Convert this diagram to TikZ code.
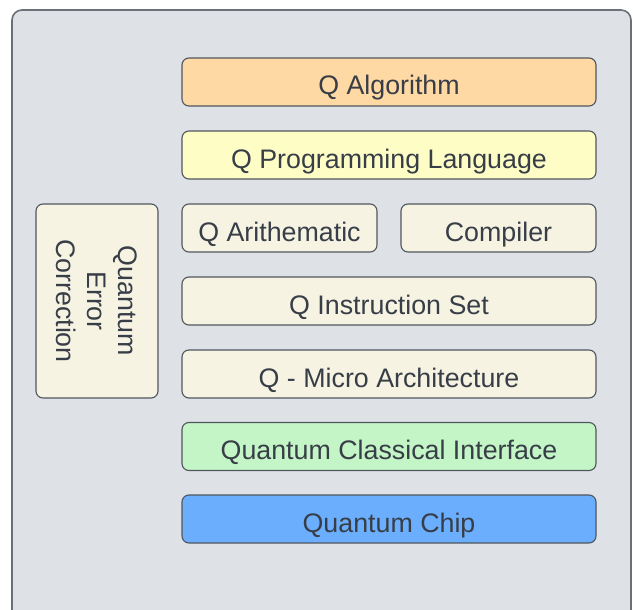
\documentclass[tikz,border=0pt]{standalone}
\usepackage{fontspec}
\setmainfont{Liberation Sans}

\definecolor{panelgray}{HTML}{DEE1E6}
\definecolor{framegray}{HTML}{6B7078}
\definecolor{edgegray}{HTML}{50565E}
\definecolor{textgray}{HTML}{383E47}
\definecolor{algofill}{HTML}{FED9A4}
\definecolor{langfill}{HTML}{FEFDC6}
\definecolor{layerfill}{HTML}{F6F3E3}
\definecolor{ifacefill}{HTML}{C3F5C6}
\definecolor{chipfill}{HTML}{6AAEFD}

\begin{document}
\begin{tikzpicture}[x=1pt,y=-1pt,
    box/.style={draw=edgegray, line width=1.1pt, rounded corners=7pt,
      fill=layerfill, text=textgray, inner sep=0pt,
      font=\fontsize{26.8}{31}\selectfont},
    layer/.style={box, minimum height=48pt, minimum width=414pt,
      text height=26pt, text depth=0pt},
    half/.style={layer, minimum width=195pt}]
    \useasboundingbox (0,0) rectangle (633,610);
    \clip (0,0) rectangle (633,610);

    % outer panel, runs off the bottom
    \draw[fill=panelgray, draw=framegray, line width=1.6pt, rounded corners=10pt]
        (12,10) rectangle (631,650);

    % stack of layers
    \node[layer, fill=algofill] (algo) at (389,82) {Q Algorithm};
    \node[layer, fill=langfill] (lang) at (389,155) {Q Programming Language};
    \node[half] (arith) at (279.5,228) {Q Arithematic};
    \node[half] (comp) at (498.5,228) {Compiler};
    \node[layer] (isa) at (389,301) {Q Instruction Set};
    \node[layer] (micro) at (389,374) {Q - Micro Architecture};
    \node[layer, fill=ifacefill] (iface) at (389,446.5) {Quantum Classical Interface};
    \node[layer, fill=chipfill] (chip) at (389,519) {Quantum Chip};

    % side block
    \node[box, rotate=-90, align=center, minimum width=194pt, minimum height=122pt]
        (qec) at (97,301) {Quantum\\Error\\Correction};
\end{tikzpicture}
\end{document}
